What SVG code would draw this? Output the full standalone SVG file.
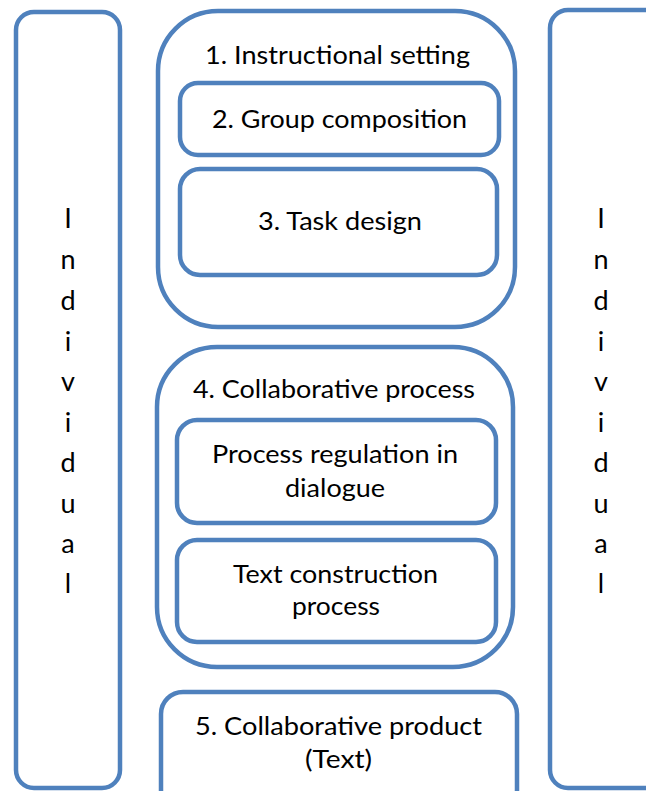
<svg xmlns="http://www.w3.org/2000/svg" width="646" height="791" viewBox="0 0 646 791">
<style>
.box{fill:#ffffff;stroke:#4F81BD;stroke-width:4.5}
.t{font-family:Lato,"Open Sans","Liberation Sans",sans-serif;font-size:25px;fill:#000000;text-anchor:middle}
.v{font-family:Lato,"Open Sans","Liberation Sans",sans-serif;font-size:27px;fill:#000000;text-anchor:middle}
</style>
<rect width="646" height="791" fill="#ffffff"/>
<g id="individual-left">
<rect class="box" x="16" y="12" width="104" height="776" rx="18"/>
<text class="v" x="68" y="228">I</text>
<text class="v" x="68" y="269">n</text>
<text class="v" x="68" y="310">d</text>
<text class="v" x="68" y="351">i</text>
<text class="v" x="68" y="391">v</text>
<text class="v" x="68" y="432">i</text>
<text class="v" x="68" y="472">d</text>
<text class="v" x="68" y="513">u</text>
<text class="v" x="68" y="553">a</text>
<text class="v" x="68" y="593">l</text>
</g>
<g id="individual-right">
<rect class="box" x="550" y="10" width="120" height="778" rx="18"/>
<text class="v" x="601" y="228">I</text>
<text class="v" x="601" y="269">n</text>
<text class="v" x="601" y="310">d</text>
<text class="v" x="601" y="351">i</text>
<text class="v" x="601" y="391">v</text>
<text class="v" x="601" y="432">i</text>
<text class="v" x="601" y="472">d</text>
<text class="v" x="601" y="513">u</text>
<text class="v" x="601" y="553">a</text>
<text class="v" x="601" y="593">l</text>
</g>
<g id="instructional-setting">
<rect class="box" x="158" y="11" width="357" height="316" rx="60"/>
<text class="t" x="337.5" y="64" textLength="265" lengthAdjust="spacingAndGlyphs">1. Instructional setting</text>
</g>
<g id="group-composition">
<rect class="box" x="180" y="83" width="319" height="72" rx="18"/>
<text class="t" x="339.5" y="128" textLength="255" lengthAdjust="spacingAndGlyphs">2. Group composition</text>
</g>
<g id="task-design">
<rect class="box" x="180" y="169" width="317" height="106" rx="20"/>
<text class="t" x="340" y="230" textLength="164" lengthAdjust="spacingAndGlyphs">3. Task design</text>
</g>
<g id="collaborative-process">
<rect class="box" x="157" y="347" width="356" height="320" rx="60"/>
<text class="t" x="334" y="398" textLength="282" lengthAdjust="spacingAndGlyphs">4. Collaborative process</text>
</g>
<g id="process-regulation">
<rect class="box" x="177" y="420" width="319" height="103" rx="20"/>
<text class="t" x="335" y="463" textLength="246" lengthAdjust="spacingAndGlyphs">Process regulation in</text>
<text class="t" x="335" y="497" textLength="100" lengthAdjust="spacingAndGlyphs">dialogue</text>
</g>
<g id="text-construction">
<rect class="box" x="177" y="540" width="319" height="102" rx="20"/>
<text class="t" x="335.5" y="583" textLength="205" lengthAdjust="spacingAndGlyphs">Text construction</text>
<text class="t" x="336" y="615" textLength="88" lengthAdjust="spacingAndGlyphs">process</text>
</g>
<g id="collaborative-product">
<rect class="box" x="161" y="692" width="356" height="120" rx="22"/>
<text class="t" x="338.5" y="735" textLength="287" lengthAdjust="spacingAndGlyphs">5. Collaborative product</text>
<text class="t" x="338.5" y="768" textLength="67" lengthAdjust="spacingAndGlyphs">(Text)</text>
</g>
<g id="connectors"></g>
</svg>
